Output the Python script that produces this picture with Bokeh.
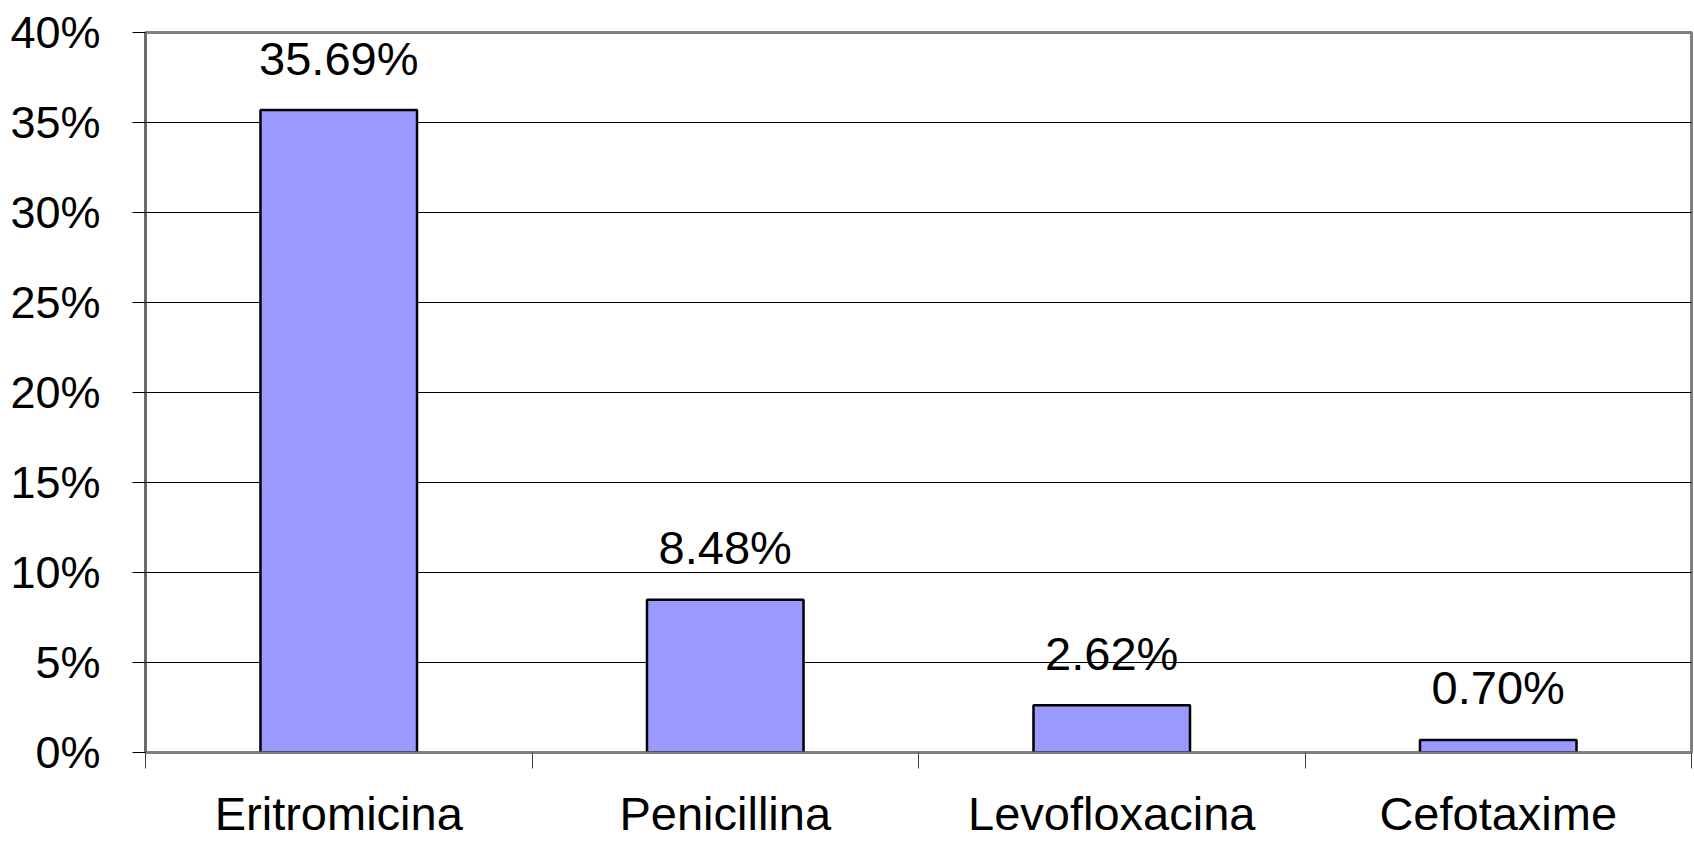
from bokeh.plotting import figure
from bokeh.models import ColumnDataSource, Range1d, FixedTicker, NumeralTickFormatter
from bokeh.core.properties import value
from bokeh.embed import file_html
from bokeh.resources import INLINE

categories = ["Eritromicina", "Penicillina", "Levofloxacina", "Cefotaxime"]
values = [0.3569, 0.0848, 0.0262, 0.0070]
y_ticks = [0.0, 0.05, 0.10, 0.15, 0.20, 0.25, 0.30, 0.35, 0.40]

FONT = "Liberation Sans"

xs = [i + 0.5 for i in range(len(categories))]
labels = [f"{v * 100:.2f}%" for v in values]
src = ColumnDataSource(dict(x=xs, top=values, cat=categories, label=labels))

p = figure(width=1694, height=842, output_backend="svg", toolbar_location=None,
           x_range=Range1d(0, len(categories)), y_range=Range1d(0, 0.40),
           min_border_left=145, min_border_right=3, min_border_top=32, min_border_bottom=90)

p.vbar(x="x", top="top", bottom=0, width=0.405, source=src,
       fill_color="#9999FF", line_color="black", line_width=2.5)

p.text(x="x", y="top", text="label", source=src, text_align="center",
       text_baseline="alphabetic", y_offset=-52, text_font=value(FONT),
       text_font_size="47px", text_color="black")

# x axis: labels at category centres, tick marks at category boundaries
p.xaxis.ticker = FixedTicker(ticks=xs, minor_ticks=list(range(len(categories) + 1)))
p.xaxis.major_label_overrides = {x: c for x, c in zip(xs, categories)}
p.xaxis.major_tick_out = 0
p.xaxis.major_tick_in = 0
p.xaxis.minor_tick_out = 16
p.xaxis.minor_tick_in = 0
p.xaxis.minor_tick_line_color = "#404040"
p.xaxis.minor_tick_line_width = 1
p.xaxis.major_label_standoff = 18
p.xaxis.major_label_text_font = FONT
p.xaxis.major_label_text_font_size = "47px"
p.xaxis.major_label_text_color = "black"
p.xaxis.axis_line_color = "#808080"
p.xaxis.axis_line_width = 2

p.yaxis.ticker = FixedTicker(ticks=y_ticks, minor_ticks=[])
p.yaxis.formatter = NumeralTickFormatter(format="0%")
p.yaxis.major_tick_out = 13
p.yaxis.major_tick_in = 0
p.yaxis.major_tick_line_color = "black"
p.yaxis.major_tick_line_width = 1
p.yaxis.major_label_standoff = 32
p.yaxis.major_label_text_font = FONT
p.yaxis.major_label_text_font_size = "45px"
p.yaxis.major_label_text_color = "black"
p.yaxis.axis_line_color = "#606060"
p.yaxis.axis_line_width = 2

p.xgrid.grid_line_color = None
p.ygrid.grid_line_color = "black"
p.ygrid.grid_line_width = 1
p.ygrid.ticker = FixedTicker(ticks=y_ticks)

p.outline_line_color = "#808080"
p.outline_line_width = 3

p.background_fill_color = "white"
p.border_fill_color = "white"

open("out.html", "w").write(file_html(p, INLINE))
